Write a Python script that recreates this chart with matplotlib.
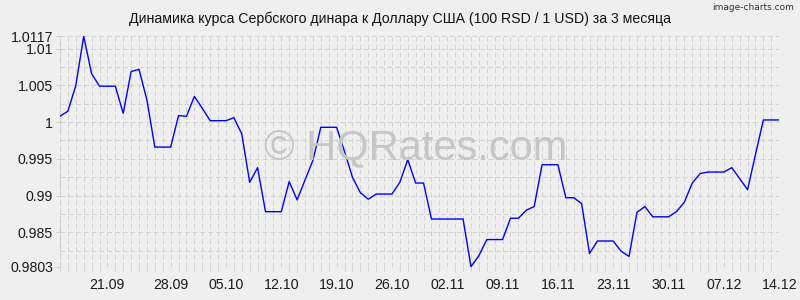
import numpy as np
import matplotlib.pyplot as plt
from matplotlib.ticker import FixedLocator, MultipleLocator

plt.rcParams['font.family'] = ['Liberation Sans', 'DejaVu Sans']

# daily rate, 14.09 .. 14.12 (100 RSD in USD)
rates = [
    1.0008, 1.0015, 1.0050, 1.0117, 1.0066, 1.0049, 1.0049, 1.0049, 1.0012, 1.0069,
    1.0072, 1.0030, 0.9966, 0.9966, 0.9966, 1.0009, 1.0008, 1.0035, 1.0019, 1.0002,
    1.0002, 1.0002, 1.0006, 0.9984, 0.9918, 0.9938, 0.9878, 0.9878, 0.9878, 0.9919,
    0.9894, 0.9921, 0.9948, 0.9993, 0.9993, 0.9993, 0.9960, 0.9925, 0.9904, 0.9895,
    0.9902, 0.9902, 0.9902, 0.9918, 0.9949, 0.9917, 0.9917, 0.9868, 0.9868, 0.9868,
    0.9868, 0.9868, 0.9803, 0.9818, 0.9840, 0.9840, 0.9840, 0.9869, 0.9869, 0.9880,
    0.9885, 0.9942, 0.9942, 0.9942, 0.9897, 0.9897, 0.9889, 0.9821, 0.9838, 0.9838,
    0.9838, 0.9824, 0.9817, 0.9877, 0.9885, 0.9871, 0.9871, 0.9871, 0.9878, 0.9891,
    0.9917, 0.9930, 0.9932, 0.9932, 0.9932, 0.9938, 0.9923, 0.9908, 0.9956, 1.0003,
    1.0003, 1.0003,
]

x_labels = ['21.09', '28.09', '05.10', '12.10', '19.10', '26.10', '02.11',
            '09.11', '16.11', '23.11', '30.11', '07.12', '14.12']
x_label_pos = [6, 14, 21, 28, 35, 42, 49, 56, 63, 70, 77, 84, 91]

y_ticks = [0.9803, 0.985, 0.99, 0.995, 1.0, 1.005, 1.01, 1.0117]
y_labels = ['0.9803', '0.985', '0.99', '0.995', '1', '1.005', '1.01', '1.0117']

title = 'Динамика курса Сербского динара к Доллару США (100 RSD / 1 USD) за 3 месяца'

bg = '#efefef'
grid_c = '#d2d2d2'
dash = (0, (5, 3))

fig = plt.figure(figsize=(8, 3), dpi=100, facecolor=bg)
ax = fig.add_axes([0.075, 0.111, 0.899, 0.768], facecolor=bg)

idx = np.arange(len(rates))
ax.plot(idx, rates, color='#0000ff', lw=1.0, zorder=3)

ax.set_xlim(0, len(rates) - 1)
ax.set_ylim(y_ticks[0], y_ticks[-1])

ax.set_xticks(x_label_pos)
ax.set_xticklabels(x_labels)
ax.xaxis.set_minor_locator(MultipleLocator(1))
ax.set_yticks(y_ticks)
ax.set_yticklabels(y_labels)
ax.yaxis.set_minor_locator(FixedLocator(list(np.arange(0.9825, 1.0117, 0.0025))))

ax.tick_params(axis='x', which='major', length=0, pad=8, labelsize=10.2, colors='#1a1a1a')
ax.tick_params(axis='x', which='minor', length=3, color=grid_c, width=0.8)
ax.tick_params(axis='y', which='major', length=3, pad=2, labelsize=10.2,
               labelcolor='#1a1a1a', color=grid_c)
ax.tick_params(axis='y', which='minor', length=0)

ax.grid(True, which='both', axis='x', color=grid_c, lw=0.7, ls=dash)
ax.grid(True, which='both', axis='y', color=grid_c, lw=0.7, ls=dash)
for s in ax.spines.values():
    s.set_visible(False)
ax.axhline(y_ticks[0], color='#c4c4c4', lw=0.8, ls=dash, zorder=1)
ax.axvline(0, color='#c4c4c4', lw=0.8, ls=dash, zorder=1)

fig.text(0.5, 0.938, title, ha='center', va='center', fontsize=10.2, color='#111111')
fig.text(0.993, 0.975, 'image-charts.com', ha='right', va='center', fontsize=6.5,
         color='#333333', family='DejaVu Sans')
fig.text(0.519, 0.507, '© HQRates.com', ha='center', va='center', fontsize=30,
         color='#c6c6c6', zorder=0)

fig.savefig('out.png', dpi=100, facecolor=bg)
